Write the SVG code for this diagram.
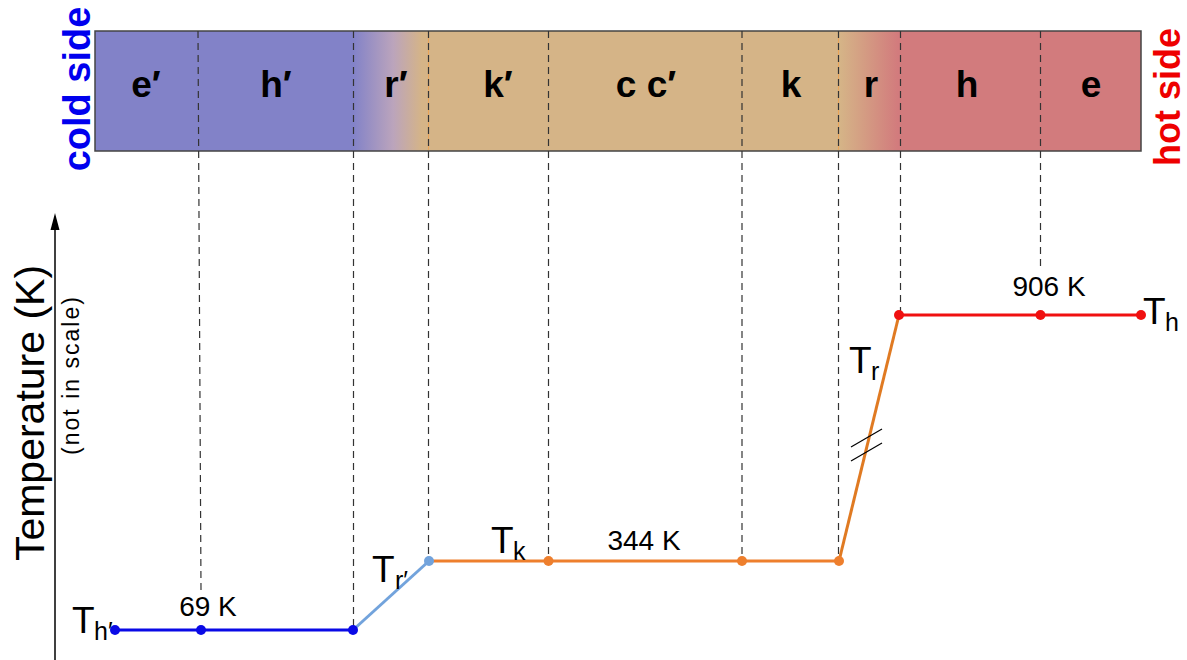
<svg xmlns="http://www.w3.org/2000/svg" width="1187" height="660" viewBox="0 0 1187 660">
<defs>
<linearGradient id="barGrad" gradientUnits="userSpaceOnUse" x1="95" y1="0" x2="1141" y2="0">
<stop offset="0" stop-color="#8282c8"/>
<stop offset="0.2467" stop-color="#8282c8"/>
<stop offset="0.285" stop-color="#bba4bc"/>
<stop offset="0.3126" stop-color="#d5b487"/>
<stop offset="0.7122" stop-color="#d5b487"/>
<stop offset="0.7677" stop-color="#d27b7d"/>
<stop offset="1" stop-color="#d27b7d"/>
</linearGradient>
</defs>
<style>
.dash{stroke:#333;stroke-width:1.2;stroke-dasharray:7 5;fill:none}
.seg{font-family:"Liberation Sans",Arial,sans-serif;font-weight:bold;font-size:37px;text-anchor:middle;fill:#000}
.side{font-family:"Liberation Sans",Arial,sans-serif;font-weight:bold;text-anchor:middle}
.val{font-family:"Liberation Sans",Arial,sans-serif;font-size:28px;text-anchor:middle;fill:#000}
.tl{font-family:"Liberation Sans",Arial,sans-serif;font-size:37px;fill:#000}
.sub{font-size:25px}
.ax{font-family:"Liberation Sans",Arial,sans-serif;fill:#000;text-anchor:middle}
</style>

<g id="bar">
<rect x="95" y="31" width="1046" height="120" fill="url(#barGrad)" stroke="#444" stroke-width="1.5"/>
<line x1="428.5" y1="32" x2="428.5" y2="150" stroke="#e9a55a" stroke-width="1"/>
<line x1="838.5" y1="32" x2="838.5" y2="150" stroke="#e9a55a" stroke-width="1"/>
</g>

<g id="segment-labels">
<text class="seg" x="146" y="97">e′</text>
<text class="seg" x="276" y="97">h′</text>
<text class="seg" x="396" y="97">r′</text>
<text class="seg" x="498" y="97">k′</text>
<text class="seg" x="646" y="97">c c′</text>
<text class="seg" x="791" y="97">k</text>
<text class="seg" x="871" y="97">r</text>
<text class="seg" x="967" y="97">h</text>
<text class="seg" x="1091" y="97">e</text>
</g>

<g id="cold-side">
<text class="side" font-size="38" fill="#0000ee" transform="translate(90,89) rotate(-90)">cold side</text>
</g>
<g id="hot-side">
<text class="side" font-size="36" fill="#ee0000" transform="translate(1180,97) rotate(-90)">hot side</text>
</g>

<g id="axis">
<line x1="55" y1="660" x2="55" y2="228" stroke="#000" stroke-width="1.5"/>
<polygon points="55,213 50.5,230 59.5,230" fill="#000"/>
<text class="ax" font-size="41" transform="translate(44,413) rotate(-90)">Temperature (K)</text>
<text class="ax" font-size="23" textLength="158" lengthAdjust="spacing" transform="translate(79,376) rotate(-90)">(not in scale)</text>
</g>

<g id="connectors">
<line class="dash" x1="198" y1="31" x2="201" y2="590"/>
<line class="dash" x1="353.5" y1="31" x2="353.5" y2="630"/>
<line class="dash" x1="428.5" y1="31" x2="428.5" y2="561"/>
<line class="dash" x1="548.5" y1="31" x2="548.5" y2="561"/>
<line class="dash" x1="742" y1="31" x2="742" y2="561"/>
<line class="dash" x1="838.5" y1="31" x2="838.5" y2="561"/>
<line class="dash" x1="900.5" y1="31" x2="900.5" y2="315"/>
<line class="dash" x1="1040.5" y1="31" x2="1040.5" y2="266"/>
</g>

<g id="curve">
<line x1="115" y1="630" x2="353" y2="630" stroke="#0a0ae6" stroke-width="3"/>
<line x1="353" y1="630" x2="429" y2="561" stroke="#72a3dc" stroke-width="3"/>
<line x1="429" y1="561" x2="839" y2="561" stroke="#ee7f2d" stroke-width="3"/>
<line x1="839" y1="561" x2="899" y2="315" stroke="#e07a22" stroke-width="3"/>
<line x1="899" y1="315" x2="1141" y2="315" stroke="#f01010" stroke-width="3"/>
<line x1="851" y1="447" x2="882" y2="429" stroke="#000" stroke-width="1.2"/>
<line x1="851" y1="461" x2="882" y2="443" stroke="#000" stroke-width="1.2"/>
</g>

<g id="points">
<circle cx="115" cy="630" r="5" fill="#0a0ae6"/>
<circle cx="201" cy="630" r="5" fill="#0a0ae6"/>
<circle cx="353" cy="630" r="5" fill="#0a0ae6"/>
<circle cx="429" cy="561" r="5" fill="#72a3dc"/>
<circle cx="548.5" cy="561" r="5" fill="#ee7f2d"/>
<circle cx="742" cy="561" r="5" fill="#ee7f2d"/>
<circle cx="839" cy="561" r="5" fill="#ee7f2d"/>
<circle cx="899" cy="315" r="5" fill="#f01010"/>
<circle cx="1040.5" cy="315" r="5" fill="#f01010"/>
<circle cx="1141" cy="315" r="5" fill="#f01010"/>
</g>

<g id="labels">
<text class="val" x="208" y="616">69 K</text>
<text class="val" x="644" y="550">344 K</text>
<text class="val" x="1049" y="296">906 K</text>
<text class="tl" x="72" y="633">T<tspan class="sub" x="94" y="640">h′</tspan></text>
<text class="tl" x="372" y="582">T<tspan class="sub" x="395" y="589">r′</tspan></text>
<text class="tl" x="491" y="553">T<tspan class="sub" x="513" y="560">k</tspan></text>
<text class="tl" x="849" y="373">T<tspan class="sub" x="871" y="380">r</tspan></text>
<text class="tl" x="1143" y="324">T<tspan class="sub" x="1165" y="331">h</tspan></text>
</g>
</svg>
